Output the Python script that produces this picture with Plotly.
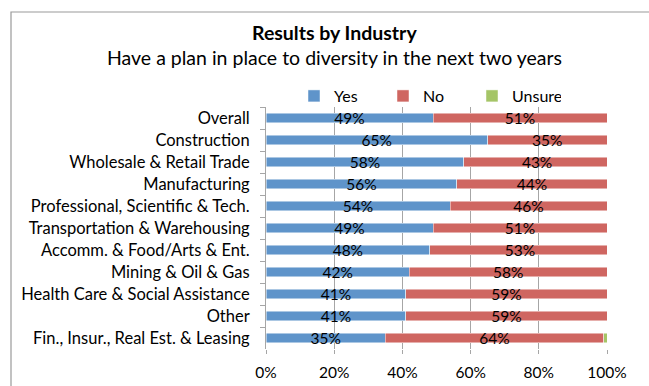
import plotly.graph_objects as go

# Survey results: share of respondents with a diversity plan, by industry
industries = [
    "Overall",
    "Construction",
    "Wholesale & Retail Trade",
    "Manufacturing",
    "Professional, Scientific & Tech.",
    "Transportation & Warehousing",
    "Accomm. & Food/Arts & Ent.",
    "Mining & Oil & Gas",
    "Health Care & Social Assistance",
    "Other",
    "Fin., Insur., Real Est. & Leasing",
]
yes_pct = [49, 65, 58, 56, 54, 49, 48, 42, 41, 41, 35]
no_pct = [51, 35, 43, 44, 46, 51, 53, 58, 59, 59, 64]
unsure_pct = [0.4, 0, 0, 0, 0, 0, 0, 0, 0, 0, 1]

x_ticks = [0, 20, 40, 60, 80, 100]
x_tick_labels = ["0%", "20%", "40%", "60%", "80%", "100%"]

FONT = "Lato"
BLUE = "#5F94CA"
RED = "#CF6661"
GREEN = "#A5C567"
GRID = "#A6A6A6"

W, H = 649, 386
L, R, T, B = 266, 42, 107, 37
plot_w = W - L - R
plot_h = H - T - B


def px_x(px):
    return (px - L) / plot_w


def px_y(py):
    return 1 - (py - T) / plot_h


fig = go.Figure()

series = [
    ("Yes", yes_pct, BLUE, True),
    ("No", no_pct, RED, True),
    ("Unsure", unsure_pct, GREEN, False),
]
for name, vals, color, labelled in series:
    fig.add_trace(
        go.Bar(
            name=name,
            y=industries,
            x=vals,
            orientation="h",
            marker=dict(color=color, line=dict(color="rgba(255,255,255,0.6)", width=0.8)),
            text=[f"{v:g}%" for v in vals] if labelled else None,
            textposition="inside" if labelled else "none",
            insidetextanchor="middle",
            constraintext="none",
            textfont=dict(family=FONT, size=15.5, color="#000000"),
            hoverinfo="skip",
        )
    )

fig.update_layout(
    width=W,
    height=H,
    margin=dict(l=L, r=R, t=T, b=B, pad=0, autoexpand=False),
    paper_bgcolor="white",
    plot_bgcolor="white",
    barmode="stack",
    bargap=0.58,
    font=dict(family=FONT, size=15, color="#000000"),
    showlegend=True,
    legend=dict(
        orientation="h",
        x=px_x(294),
        y=px_y(96),
        xanchor="left",
        yanchor="middle",
        font=dict(family=FONT, size=16),
        itemwidth=30,
        entrywidth=44,
        entrywidthmode="pixels",
        traceorder="normal",
        bgcolor="rgba(0,0,0,0)",
    ),
    xaxis=dict(
        range=[0, 100],
        tickvals=x_ticks,
        ticktext=x_tick_labels,
        showgrid=True,
        gridcolor=GRID,
        gridwidth=1,
        zeroline=False,
        showline=False,
        ticks="outside",
        ticklen=4,
        tickcolor=GRID,
        ticklabelstandoff=5,
        tickfont=dict(family=FONT, size=15.5),
        automargin=False,
        fixedrange=True,
    ),
    yaxis=dict(
        categoryorder="array",
        categoryarray=industries,
        autorange="reversed",
        showline=True,
        linecolor=GRID,
        linewidth=1,
        ticks="outside",
        tickson="boundaries",
        ticklen=5,
        tickcolor=GRID,
        ticklabelstandoff=12,
        showgrid=False,
        tickfont=dict(family=FONT, size=16.5),
        automargin=False,
        fixedrange=True,
    ),
)

# Chart frame
fig.add_shape(
    type="rect",
    xref="paper",
    yref="paper",
    x0=px_x(11),
    x1=px_x(660),
    y0=px_y(392),
    y1=px_y(12),
    line=dict(color="#9A9A9A", width=1.2),
    fillcolor="rgba(0,0,0,0)",
    layer="below",
)

# Title and subtitle
fig.add_annotation(
    text="<b>Results by Industry</b>",
    xref="paper", yref="paper",
    x=px_x(334), y=px_y(33),
    xanchor="center", yanchor="middle",
    showarrow=False,
    font=dict(family=FONT, size=19.5, color="#000000"),
)
fig.add_annotation(
    text="Have a plan in place to diversity in the next two years",
    xref="paper", yref="paper",
    x=px_x(334), y=px_y(58),
    xanchor="center", yanchor="middle",
    showarrow=False,
    font=dict(family=FONT, size=19.5, color="#000000"),
)

fig.write_html("out.html")
